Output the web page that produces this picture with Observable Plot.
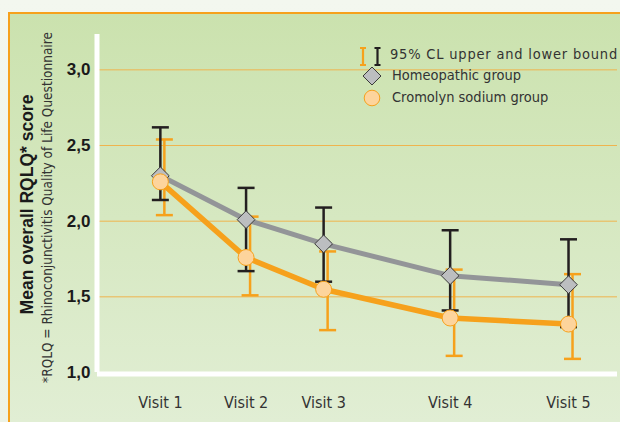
<!DOCTYPE html>
<html>
<head>
<meta charset="utf-8">
<script src="https://cdn.jsdelivr.net/npm/d3@7"></script>
<script src="https://cdn.jsdelivr.net/npm/@observablehq/plot@0.6"></script>
<style>
  html, body { margin: 0; padding: 0; }
  #wrap { position: relative; width: 620px; height: 422px; overflow: hidden;
          background: linear-gradient(#f3f7ef, #edf3e6); }
  #panel { position: absolute; left: 8px; top: 12px; right: 0; bottom: 0;
           border-top: 2px solid #f6a11c; border-left: 2px solid #f6a11c;
           background: linear-gradient(#cbe2ae, #e1eed4); }
  #chart { position: absolute; left: 0; top: 0; }
  #legend { position: absolute; left: 358px; top: 40px;
            font-family: "Liberation Sans Narrow", "DejaVu Sans Condensed", sans-serif;
            font-stretch: condensed; font-size: 14.5px; color: #333; }
  .row { position: absolute; left: 0; white-space: nowrap; height: 20px; }
  .row svg { position: absolute; left: 0; top: 0; }
  .row span { position: absolute; top: 2px; }
</style>
</head>
<body>
<div id="wrap">
  <div id="panel"></div>
  <div id="chart"></div>
  <div id="legend"></div>
</div>
<script>
// ---- data ----
const visits = ["Visit 1", "Visit 2", "Visit 3", "Visit 4", "Visit 5"];
const visitWeek = [0, 1.05, 2, 3.55, 5];
const homeoMean = [2.30, 2.01, 1.85, 1.64, 1.58];
const homeoLow  = [2.14, 1.67, 1.60, 1.41, 1.30];
const homeoHigh = [2.62, 2.22, 2.09, 1.94, 1.88];
const cromoMean = [2.26, 1.76, 1.55, 1.36, 1.32];
const cromoLow  = [2.04, 1.51, 1.28, 1.11, 1.09];
const cromoHigh = [2.54, 2.03, 1.80, 1.68, 1.65];
const yTicks = [1.0, 1.5, 2.0, 2.5, 3.0];
const yTitle = "Mean overall RQLQ* score";
const ySubtitle = "*RQLQ = Rhinoconjunctivitis Quality of Life Questionnaire";
const legendLabels = ["95% CL upper and lower bound", "Homeopathic group", "Cromolyn sodium group"];

const homeo = visits.map((v, i) => ({visit: v, x: visitWeek[i], mean: homeoMean[i], low: homeoLow[i], high: homeoHigh[i]}));
const cromo = visits.map((v, i) => ({visit: v, x: visitWeek[i], mean: cromoMean[i], low: cromoLow[i], high: cromoHigh[i]}));

const ORANGE = "#f6a11c", GRAY = "#939598", BLACK = "#231f20";
const narrow = "'Liberation Sans Narrow', 'DejaVu Sans Condensed', sans-serif";
const bold = "'Liberation Sans', Arial, sans-serif";

const cap = {draw(ctx) { ctx.moveTo(-8.5, 0); ctx.lineTo(8.5, 0); }};

const chart = Plot.plot({
  width: 620, height: 422,
  marginLeft: 97, marginRight: 3, marginTop: 30, marginBottom: 50,
  style: {background: "transparent", overflow: "visible"},
  x: {domain: [-0.77, 5.6]},
  y: {domain: [1, 3.26]},
  marks: [
    Plot.gridY(yTicks.slice(1), {stroke: "#efb44e", strokeOpacity: 1, strokeWidth: 1}),
    Plot.ruleY([1], {stroke: "white", strokeWidth: 5, dy: 1.5}),
    Plot.ruleX([-0.77], {y1: 1, y2: 3.26, stroke: "white", strokeWidth: 5, dx: -0.5, insetBottom: -4}),
    Plot.axisY(yTicks, {tickSize: 0, tickPadding: 7, fontSize: 17, fontWeight: "bold", fontFamily: bold,
      fill: "#1a1a1a", label: null, tickFormat: d => d.toFixed(1).replace(".", ",")}),
    Plot.axisX(visitWeek, {tickSize: 0, tickPadding: 24, fontSize: 16, fontFamily: narrow, fill: "#333",
      label: null, tickFormat: d => visits[visitWeek.indexOf(d)]}),
    Plot.text([yTitle], {frameAnchor: "left", rotate: -90, dx: -70, dy: 3, textAnchor: "middle",
      lineAnchor: "middle", fontSize: 17.5, fontWeight: "bold", fontFamily: bold, fill: "#1a1a1a"}),
    Plot.text([ySubtitle], {frameAnchor: "left", rotate: -90, dx: -50, dy: 6, textAnchor: "middle",
      lineAnchor: "middle", fontSize: 13.5, fontFamily: narrow, fill: "#333"}),
    Plot.line(homeo, {x: "x", y: "mean", stroke: GRAY, strokeWidth: 5, curve: "linear"}),
    Plot.line(cromo, {x: "x", y: "mean", stroke: ORANGE, strokeWidth: 5.5, curve: "linear"}),
    Plot.ruleX(cromo, {x: "x", y1: "low", y2: "high", stroke: ORANGE, strokeWidth: 2.5, dx: 4}),
    Plot.dot(cromo, {x: "x", y: "low", symbol: cap, stroke: ORANGE, strokeWidth: 2.5, dx: 4}),
    Plot.dot(cromo, {x: "x", y: "high", symbol: cap, stroke: ORANGE, strokeWidth: 2.5, dx: 4}),
    Plot.ruleX(homeo, {x: "x", y1: "low", y2: "high", stroke: BLACK, strokeWidth: 2.5}),
    Plot.dot(homeo, {x: "x", y: "low", symbol: cap, stroke: BLACK, strokeWidth: 2.5}),
    Plot.dot(homeo, {x: "x", y: "high", symbol: cap, stroke: BLACK, strokeWidth: 2.5}),
    Plot.dot(homeo, {x: "x", y: "mean", symbol: "diamond2", r: 8, fill: "#bcbec0", stroke: "#3a3a3a", strokeWidth: 1}),
    Plot.dot(cromo, {x: "x", y: "mean", r: 8, fill: "#fdd49c", stroke: ORANGE, strokeWidth: 1})
  ]
});
document.getElementById("chart").appendChild(chart);

// ---- legend ----
const legend = document.getElementById("legend");
const icons = [
  `<svg width="30" height="22"><g stroke-width="2.2" fill="none">
     <path d="M5,4V21M2,4H8M2,21H8" stroke="${ORANGE}"/>
     <path d="M19.5,4V21M16.5,4H22.5M16.5,21H22.5" stroke="${BLACK}"/></g></svg>`,
  `<svg width="30" height="22"><path d="M14,2L23,11L14,20L5,11Z" fill="#bcbec0" stroke="#3a3a3a"/></svg>`,
  `<svg width="30" height="22"><circle cx="14" cy="11" r="7.8" fill="#fdd49c" stroke="${ORANGE}"/></svg>`
];
const rowTops = [4, 25, 47];
const textLeft = [32, 34, 34];
legendLabels.forEach((t, i) => {
  const row = document.createElement("div");
  row.className = "row";
  row.style.top = rowTops[i] + "px";
  row.innerHTML = icons[i] + `<span style="left:${textLeft[i]}px;${i === 0 ? "letter-spacing:0.8px;" : ""}">${t}</span>`;
  legend.appendChild(row);
});
</script>
</body>
</html>
